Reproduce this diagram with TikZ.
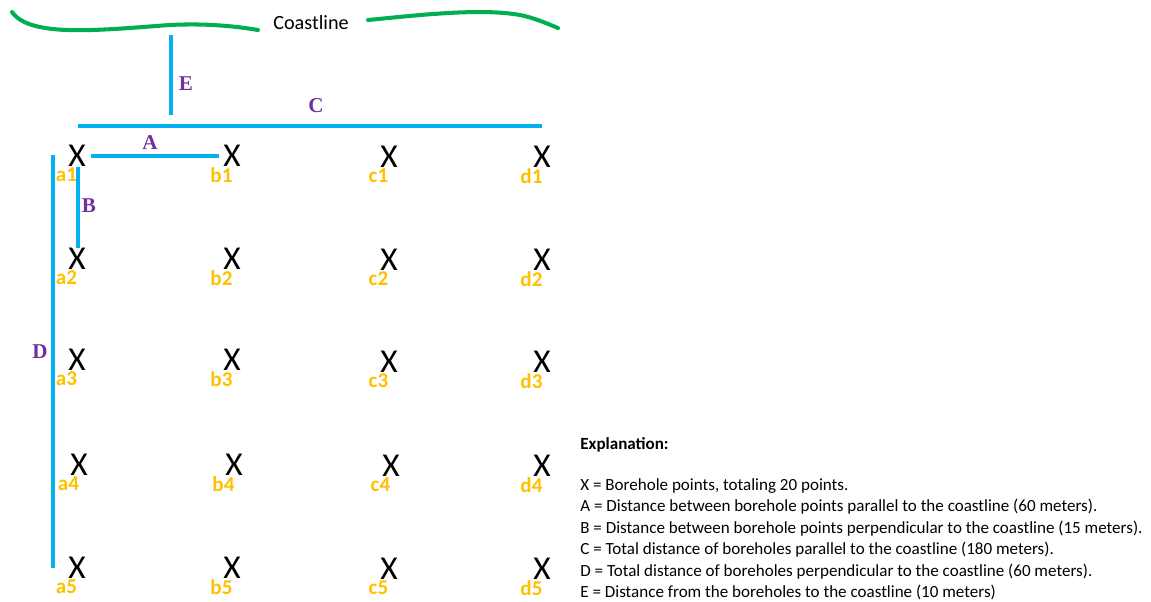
\documentclass[tikz,border=0pt]{standalone}
\usepackage{fontspec}
\setmainfont{Carlito}
\newfontfamily\labfont{Liberation Serif}
\usepackage{tikz}
\definecolor{sea}{HTML}{00B0F0}
\definecolor{shore}{HTML}{00B050}
\definecolor{gold}{HTML}{FFC000}
\definecolor{plum}{HTML}{7030A0}

\begin{document}
\begin{tikzpicture}[x=0.02cm, y=-0.02cm,
  bh/.style={font=\fontsize{19}{19}\selectfont, inner sep=0pt, label distance=1.5pt},
  tag/.style={font=\fontsize{12}{12}\selectfont\bfseries, text=gold, inner sep=0pt, xshift=-6pt},
  dim/.style={font=\fontsize{12}{12}\selectfont\labfont\bfseries, text=plum, inner sep=0pt},
  bar/.style={draw=sea, line width=2.3pt}]
  \useasboundingbox (0,0) rectangle (1151,601);
  % coastline
  \node[font=\fontsize{11.5}{12}\selectfont] (coast) at (311,23) {Coastline};
  \draw[shore, line width=2.3pt, line cap=round] (12,12) .. controls (30,38) and (100,30) .. (170,25)
    .. controls (210,23) and (240,27) .. (258,30);
  \draw[shore, line width=2.3pt, line cap=round] (368,20) .. controls (420,15) and (480,8) .. (520,15)
    .. controls (535,18) and (548,24) .. (558,28);
  % borehole points
  \node[bh, label={[tag]below:a1}] (a1) at (77,156) {X};
  \node[bh, label={[tag]below:b1}] (b1) at (232,156) {X};
  \node[bh, label={[tag]below:c1}] (c1) at (389,157) {X};
  \node[bh, label={[tag]below:d1}] (d1) at (542,157) {X};
  \node[bh, label={[tag]below:a2}] (a2) at (77,259) {X};
  \node[bh, label={[tag]below:b2}] (b2) at (232,259) {X};
  \node[bh, label={[tag]below:c2}] (c2) at (389,260) {X};
  \node[bh, label={[tag]below:d2}] (d2) at (542,260) {X};
  \node[bh, label={[tag]below:a3}] (a3) at (77,360) {X};
  \node[bh, label={[tag]below:b3}] (b3) at (232,360) {X};
  \node[bh, label={[tag]below:c3}] (c3) at (389,362) {X};
  \node[bh, label={[tag]below:d3}] (d3) at (542,362) {X};
  \node[bh, label={[tag]below:a4}] (a4) at (79,465) {X};
  \node[bh, label={[tag]below:b4}] (b4) at (234,465) {X};
  \node[bh, label={[tag]below:c4}] (c4) at (391,466) {X};
  \node[bh, label={[tag]below:d4}] (d4) at (542,466) {X};
  \node[bh, label={[tag]below:a5}] (a5) at (77,568) {X};
  \node[bh, label={[tag]below:b5}] (b5) at (232,568) {X};
  \node[bh, label={[tag]below:c5}] (c5) at (389,569) {X};
  \node[bh, label={[tag]below:d5}] (d5) at (542,569) {X};
  % dimension bars
  \coordinate (eTop) at (171,35);
  \coordinate (eBot) at (171,115);
  \coordinate (cW) at (78,126);
  \coordinate (cE) at (542,126);
  \coordinate (dTop) at (53,155);
  \coordinate (dBot) at (53,568);
  \draw[bar] (eTop)--(eBot);
  \draw[bar] (cW)--(cE);
  \draw[bar, shorten <=3pt, shorten >=2.5pt] (a1.east)--(b1.west);
  \draw[bar] ([xshift=0.5pt]a1.south)--([xshift=0.5pt]a2.north);
  \draw[bar] (dTop)--(dBot);
  \node[dim] (lE) at (186,84)  {E};
  \node[dim] (lC) at (316,106) {C};
  \node[dim] (lA) at (150,143) {A};
  \node[dim] (lB) at (89,206)  {B};
  \node[dim] (lD) at (40,352)  {D};
  % explanation
  \node[anchor=north west, align=left, inner sep=0pt, font=\fontsize{9.7}{12.2}\selectfont] (note) at (580,437)
    {\textbf{Explanation:}\\[11.2pt]
     X = Borehole points, totaling 20 points.\\
     A = Distance between borehole points parallel to the coastline (60 meters).\\
     B = Distance between borehole points perpendicular to the coastline (15 meters).\\
     C = Total distance of boreholes parallel to the coastline (180 meters).\\
     D = Total distance of boreholes perpendicular to the coastline (60 meters).\\
     E = Distance from the boreholes to the coastline (10 meters)};
\end{tikzpicture}
\end{document}
